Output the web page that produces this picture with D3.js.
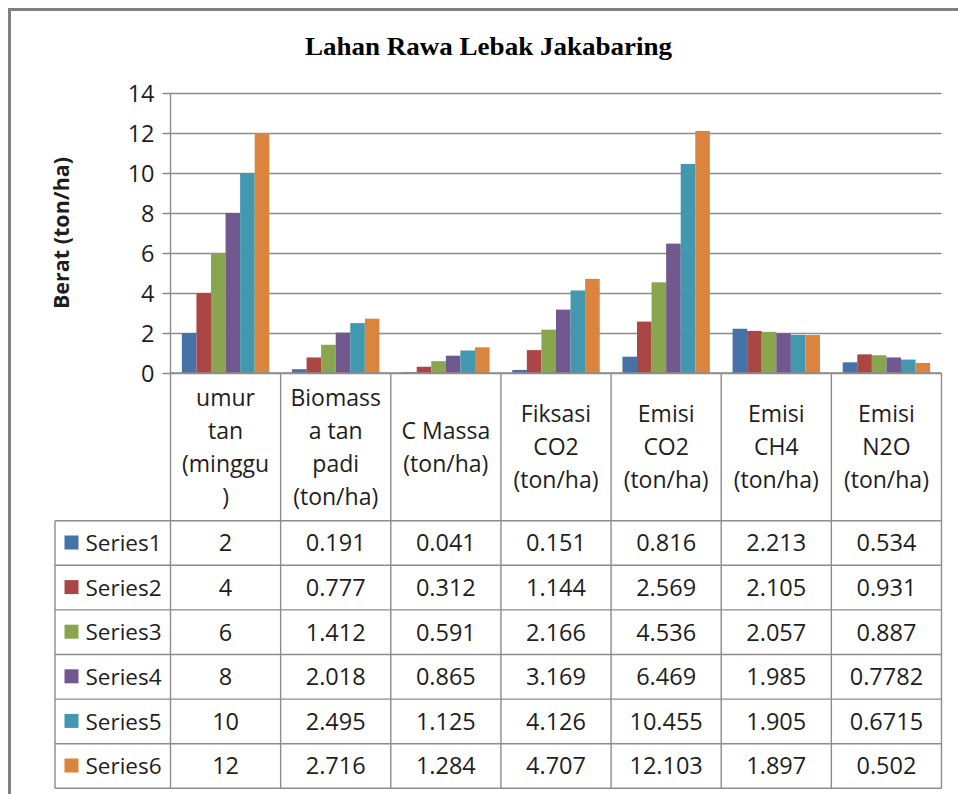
<!DOCTYPE html>
<html>
<head>
<meta charset="utf-8">
<script src="https://cdn.jsdelivr.net/npm/d3@7/dist/d3.min.js"></script>
<style>
  html, body { margin: 0; padding: 0; background: #fff; }
  svg { display: block; }
</style>
</head>
<body>
<svg id="chart" width="958" height="794"></svg>
<script>
// Chart content
const chartTitle = "Lahan Rawa Lebak Jakabaring";
const yAxisTitle = "Berat (ton/ha)";

// Category header lines (as wrapped in the data table)
const categoryLines = [
  ["umur", "tan", "(minggu", ")"],
  ["Biomass", "a tan", "padi", "(ton/ha)"],
  ["C Massa", "(ton/ha)"],
  ["Fiksasi", "CO2", "(ton/ha)"],
  ["Emisi", "CO2", "(ton/ha)"],
  ["Emisi", "CH4", "(ton/ha)"],
  ["Emisi", "N2O", "(ton/ha)"]
];

const seriesNames = ["Series1", "Series2", "Series3", "Series4", "Series5", "Series6"];
const seriesColors = ["#4572A7", "#AA4643", "#89A54E", "#71588F", "#4198AF", "#DB843D"];

const series1 = [2, 0.191, 0.041, 0.151, 0.816, 2.213, 0.534];
const series2 = [4, 0.777, 0.312, 1.144, 2.569, 2.105, 0.931];
const series3 = [6, 1.412, 0.591, 2.166, 4.536, 2.057, 0.887];
const series4 = [8, 2.018, 0.865, 3.169, 6.469, 1.985, 0.7782];
const series5 = [10, 2.495, 1.125, 4.126, 10.455, 1.905, 0.6715];
const series6 = [12, 2.716, 1.284, 4.707, 12.103, 1.897, 0.502];

const yTicks = [0, 2, 4, 6, 8, 10, 12, 14];

const seriesValues = [series1, series2, series3, series4, series5, series6];

// Layout
const plotLeft = 170.5, plotRight = 941.5, plotTop = 93, plotBottom = 373;
const headerBottom = 520.7, tableBottom = 788.3, legendLeft = 55;
const rowH = (tableBottom - headerBottom) / seriesNames.length;
const lineColor = "#8c8c8c";
const textColor = "#1e1e1e";
const bodyFont = "'Open Sans', 'Noto Sans', sans-serif";

const svg = d3.select("#chart");

// Outer frame of the chart object
svg.append("path")
  .attr("d", `M9.5,800 L9.5,9.5 L970,9.5`)
  .attr("fill", "none")
  .attr("stroke", "#808080")
  .attr("stroke-width", 3);

// Title
svg.append("text")
  .attr("x", 488.5)
  .attr("y", 54.5)
  .attr("text-anchor", "middle")
  .attr("font-family", "'Liberation Serif', 'DejaVu Serif', serif")
  .attr("font-weight", "bold")
  .attr("font-size", 26)
  .attr("textLength", 367)
  .attr("lengthAdjust", "spacingAndGlyphs")
  .attr("fill", "#000")
  .text(chartTitle);

// Scales
const x = d3.scaleBand()
  .domain(d3.range(categoryLines.length))
  .range([plotLeft, plotRight])
  .paddingInner(0).paddingOuter(0);

const xs = d3.scaleBand()
  .domain(d3.range(seriesNames.length))
  .range([0, x.bandwidth()])
  .paddingInner(0).paddingOuter(0.78);

const y = d3.scaleLinear().domain([0, 14]).range([plotBottom, plotTop]);

// Gridlines with outward ticks
const yAxis = d3.axisLeft(y)
  .tickValues(yTicks)
  .tickSize(-(plotRight - plotLeft))
  .tickSizeOuter(0)
  .tickPadding(16)
  .tickFormat(d3.format("d"));

const gy = svg.append("g")
  .attr("transform", `translate(${plotLeft},0)`)
  .call(yAxis);
gy.select(".domain").remove();
gy.selectAll(".tick line")
  .attr("x1", -8)
  .attr("stroke", lineColor)
  .attr("stroke-width", 1.4);
gy.selectAll(".tick text")
  .attr("font-family", bodyFont)
  .attr("font-size", 23.5)
  .attr("fill", textColor)
  .attr("dy", "0.36em");

// Vertical axis line
svg.append("line")
  .attr("x1", plotLeft).attr("x2", plotLeft)
  .attr("y1", plotTop).attr("y2", tableBottom)
  .attr("stroke", lineColor).attr("stroke-width", 1.4);

// Axis title
svg.append("text")
  .attr("transform", `translate(69,233) rotate(-90)`)
  .attr("text-anchor", "middle")
  .attr("font-family", bodyFont)
  .attr("font-weight", "bold")
  .attr("font-size", 21.5)
  .attr("fill", textColor)
  .text(yAxisTitle);

// Bars
const groups = svg.append("g").selectAll("g")
  .data(seriesValues)
  .join("g")
  .attr("fill", (d, i) => seriesColors[i]);

groups.each(function(vals, si) {
  d3.select(this).selectAll("rect")
    .data(vals)
    .join("rect")
    .attr("x", (v, ci) => x(ci) + xs(si))
    .attr("width", xs.bandwidth())
    .attr("y", v => y(v))
    .attr("height", v => y(0) - y(v));
});

// X axis line (top of the data table)
svg.append("line")
  .attr("x1", plotLeft).attr("x2", plotRight)
  .attr("y1", plotBottom).attr("y2", plotBottom)
  .attr("stroke", lineColor).attr("stroke-width", 1.4);

// Data table grid
const table = svg.append("g").attr("stroke", lineColor).attr("stroke-width", 1.4);
categoryLines.forEach((c, ci) => {
  table.append("line")
    .attr("x1", x(ci) + x.bandwidth()).attr("x2", x(ci) + x.bandwidth())
    .attr("y1", plotBottom).attr("y2", tableBottom);
});
d3.range(seriesNames.length + 1).forEach(r => {
  const yy = headerBottom + r * rowH;
  table.append("line")
    .attr("x1", legendLeft).attr("x2", plotRight)
    .attr("y1", yy).attr("y2", yy);
});
table.append("line")
  .attr("x1", legendLeft).attr("x2", legendLeft)
  .attr("y1", headerBottom).attr("y2", tableBottom);

// Header labels
const lineGap = 33;
const headerMid = (plotBottom + headerBottom) / 2;
categoryLines.forEach((lines, ci) => {
  const cx = x(ci) + x.bandwidth() / 2;
  const t = svg.append("text")
    .attr("text-anchor", "middle")
    .attr("font-family", bodyFont)
    .attr("font-size", 23)
    .attr("fill", textColor);
  lines.forEach((ln, li) => {
    t.append("tspan")
      .attr("x", cx)
      .attr("y", headerMid + (li - (lines.length - 1) / 2) * lineGap)
      .attr("dy", "0.36em")
      .text(ln);
  });
});

// Table rows: legend key + values
seriesNames.forEach((name, si) => {
  const cy = headerBottom + si * rowH + rowH / 2;
  svg.append("rect")
    .attr("x", 64.5).attr("y", cy - 7.5)
    .attr("width", 14).attr("height", 14)
    .attr("fill", seriesColors[si]);
  svg.append("text")
    .attr("x", 85.5).attr("y", cy)
    .attr("dy", "0.36em")
    .attr("font-family", bodyFont)
    .attr("font-size", 22.5)
    .attr("fill", textColor)
    .text(name);
  seriesValues[si].forEach((v, ci) => {
    svg.append("text")
      .attr("x", x(ci) + x.bandwidth() / 2)
      .attr("y", cy)
      .attr("dy", "0.36em")
      .attr("text-anchor", "middle")
      .attr("font-family", bodyFont)
      .attr("font-size", 23.5)
      .attr("fill", textColor)
      .text(String(v));
  });
});
</script>
</body>
</html>
